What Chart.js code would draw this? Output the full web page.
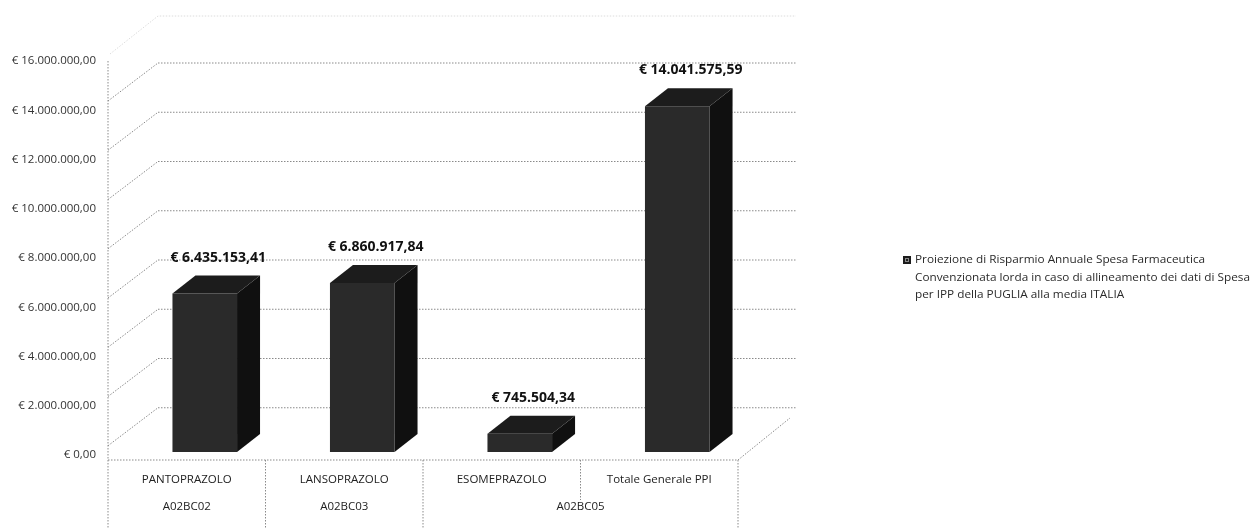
<!DOCTYPE html>
<html>
<head>
<meta charset="utf-8">
<script src="https://cdn.jsdelivr.net/npm/chart.js@4.4.1/dist/chart.umd.min.js"></script>
<style>
html, body { margin: 0; padding: 0; background: #fff; }
canvas { display: block; }
</style>
</head>
<body>
<canvas id="chart" width="1255" height="528"></canvas>
<script>
const categories = ['PANTOPRAZOLO', 'LANSOPRAZOLO', 'ESOMEPRAZOLO', 'Totale Generale PPI'];
const atcCodes = ['A02BC02', 'A02BC03', 'A02BC05'];
const atcSpans = [[0, 0], [1, 1], [2, 3]];
const savings = [6435153.41, 6860917.84, 745504.34, 14041575.59];
const yTicks = [0, 2000000, 4000000, 6000000, 8000000, 10000000, 12000000, 14000000, 16000000];
const legendLines = [
    'Proiezione di Risparmio Annuale Spesa Farmaceutica',
    'Convenzionata lorda in caso di allineamento dei dati di Spesa',
    'per IPP della PUGLIA alla media ITALIA'
];

// 3d look
const depth = { dx: 23, dy: 18 };
const wall = { dx: 50, dy: 38 };
const frontShift = 18;
const font = '"Open Sans", "DejaVu Sans", sans-serif';

function euro(v) {
    const parts = v.toFixed(2).split('.');
    return '€ ' + parts[0].replace(/\B(?=(\d{3})+(?!\d))/g, '.') + ',' + parts[1];
}

function dotted(ctx, pts) {
    ctx.beginPath();
    ctx.moveTo(pts[0][0], pts[0][1]);
    for (let i = 1; i < pts.length; i++) ctx.lineTo(pts[i][0], pts[i][1]);
    ctx.stroke();
}

const framePlugin = {
    id: 'frame3d',
    beforeDatasetsDraw(chart) {
        const { ctx, chartArea: a, scales: { y } } = chart;
        const slot = a.width / categories.length;
        const axisX = a.left - frontShift;
        const backL = axisX + wall.dx;
        const backR = a.right + 40;
        const floorY = y.getPixelForValue(0) + 8;

        ctx.save();
        ctx.lineWidth = 1;
        ctx.setLineDash([1.5, 1.5]);
        ctx.strokeStyle = '#8a8a8a';

        yTicks.forEach(v => {
            if (v === 0) return;
            const yy = y.getPixelForValue(v) + 5;
            dotted(ctx, [[backL, yy], [backR, yy]]);
            dotted(ctx, [[axisX, yy + wall.dy], [backL, yy]]);
        });

        // top edge of the walls
        const topY = y.getPixelForValue(yTicks[yTicks.length - 1]) - 42;
        ctx.strokeStyle = '#dcdcdc';
        dotted(ctx, [[axisX + 2, topY + wall.dy], [backL, topY], [backR, topY]]);

        ctx.strokeStyle = '#8a8a8a';
        // left axis
        dotted(ctx, [[axisX, y.getPixelForValue(yTicks[yTicks.length - 1]) + 3], [axisX, floorY]]);
        // floor front edge + right edge
        const floorR = a.right - frontShift;
        dotted(ctx, [[axisX, floorY], [floorR, floorY], [floorR + wall.dx + 2, floorY - wall.dy - 4]]);

        // category separators
        const ends = atcSpans.map(s => s[1] + 1);
        for (let i = 0; i <= categories.length; i++) {
            const bx = a.left + i * slot - frontShift;
            const full = i === 0 || ends.includes(i);
            dotted(ctx, [[bx, floorY], [bx, full ? 528 : floorY + 40]]);
        }
        ctx.restore();
    },
    afterDatasetsDraw(chart) {
        const { ctx, chartArea: a, scales: { y } } = chart;
        const meta = chart.getDatasetMeta(0);
        const slot = a.width / categories.length;
        const floorY = y.getPixelForValue(0) + 8;

        ctx.save();
        meta.data.forEach((bar, i) => {
            const l = bar.x - bar.width / 2;
            const r = bar.x + bar.width / 2;
            const t = bar.y;
            const b = bar.base;

            ctx.fillStyle = '#101010';
            ctx.beginPath();
            ctx.moveTo(r, t);
            ctx.lineTo(r + depth.dx, t - depth.dy);
            ctx.lineTo(r + depth.dx, b - depth.dy);
            ctx.lineTo(r, b);
            ctx.closePath();
            ctx.fill();

            ctx.fillStyle = '#1c1c1c';
            ctx.beginPath();
            ctx.moveTo(l, t);
            ctx.lineTo(l + depth.dx, t - depth.dy);
            ctx.lineTo(r + depth.dx, t - depth.dy);
            ctx.lineTo(r, t);
            ctx.closePath();
            ctx.fill();

            ctx.fillStyle = '#111';
            ctx.font = 'bold 14px ' + font;
            ctx.textAlign = 'center';
            ctx.textBaseline = 'middle';
            ctx.fillText(euro(savings[i]), bar.x + depth.dx / 2 + 2, t - 36);
        });

        // category labels, two levels
        ctx.fillStyle = '#222';
        ctx.font = '11.5px ' + font;
        ctx.textAlign = 'center';
        ctx.textBaseline = 'middle';
        categories.forEach((c, i) => {
            const cx = a.left + (i + 0.5) * slot - frontShift;
            ctx.fillText(c, cx, floorY + 20);
        });
        atcSpans.forEach((s, k) => {
            const cx = a.left + ((s[0] + s[1] + 1) / 2) * slot - frontShift;
            ctx.fillText(atcCodes[k], cx, floorY + 47);
        });

        // legend
        const lx = 903, ly = 256;
        ctx.fillStyle = '#1c1c1c';
        ctx.fillRect(lx, ly, 8, 8);
        ctx.strokeStyle = '#888';
        ctx.lineWidth = 1;
        ctx.strokeRect(lx + 2.5, ly + 2.5, 3, 3);
        ctx.fillStyle = '#2a2a2a';
        ctx.font = '11px ' + font;
        ctx.textAlign = 'left';
        const squeeze = 335 / ctx.measureText(legendLines[1]).width;
        legendLines.forEach((line, i) => {
            ctx.save();
            ctx.translate(lx + 12, ly + 4 + i * 17.5);
            ctx.scale(squeeze, 1);
            ctx.fillText(line, 0, 0);
            ctx.restore();
        });
        ctx.restore();
    }
};

new Chart(document.getElementById('chart'), {
    type: 'bar',
    data: {
        labels: categories,
        datasets: [{
            label: legendLines.join(' '),
            data: savings,
            backgroundColor: '#2a2a2a',
            borderWidth: 0,
            barPercentage: 0.41,
            categoryPercentage: 1
        }]
    },
    options: {
        responsive: false,
        animation: false,
        layout: { padding: { top: 58, bottom: 76, left: 0, right: 499 } },
        plugins: {
            legend: { display: false },
            tooltip: { enabled: false }
        },
        scales: {
            x: { display: false },
            y: {
                min: 0,
                max: 16000000,
                afterFit: scale => { scale.width = 126; },
                afterBuildTicks: scale => { scale.ticks = yTicks.map(v => ({ value: v })); },
                grid: { display: false },
                border: { display: false },
                ticks: {
                    padding: 22,
                    labelOffset: 3,
                    color: '#333',
                    font: { family: font, size: 11.5 },
                    callback: v => euro(v)
                }
            }
        }
    },
    plugins: [framePlugin]
});
</script>
</body>
</html>
